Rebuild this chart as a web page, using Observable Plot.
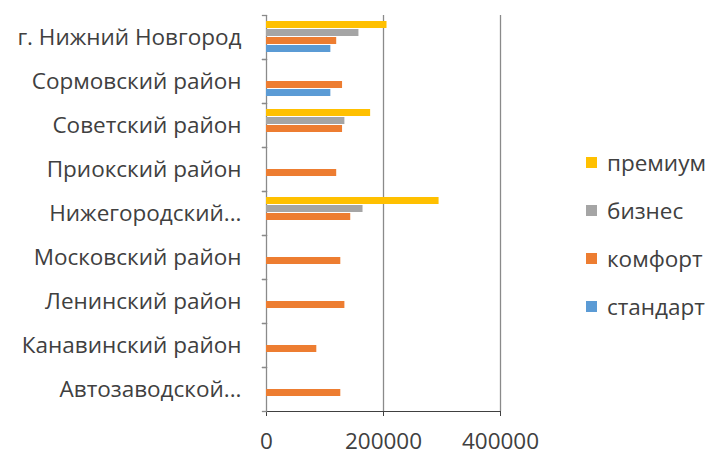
<!DOCTYPE html>
<html>
<head>
<meta charset="utf-8">
<script src="https://cdn.jsdelivr.net/npm/d3@7"></script>
<script src="https://cdn.jsdelivr.net/npm/@observablehq/plot@0.6"></script>
<style>
  body { margin: 0; background: #fff; }
  #wrap { position: relative; width: 712px; height: 458px; font-family: "Open Sans", sans-serif; overflow: hidden; }
  #legend { position: absolute; left: 586px; top: 146px; }
  #legend .item { display: flex; align-items: center; height: 32px; margin-bottom: 16px; font-size: 22.5px; color: #404040; white-space: nowrap; }
  #legend .sw { width: 11px; height: 11px; margin-right: 10px; flex: none; }
</style>
</head>
<body>
<div id="wrap"></div>
<script>
// Districts, top to bottom
const districts = [
  "г. Нижний Новгород",
  "Сормовский район",
  "Советский район",
  "Приокский район",
  "Нижегородский район",
  "Московский район",
  "Ленинский район",
  "Канавинский район",
  "Автозаводской район"
];
// Housing classes, in bar order within each district
const classes = ["премиум", "бизнес", "комфорт", "стандарт"];
const classColors = ["#FFC000", "#A5A5A5", "#ED7D31", "#5B9BD5"];

// Price per class for each district (null = no data)
const premium  = [206000, null, 178000, null, 295000, null, null, null, null];
const business = [158000, null, 134000, null, 165000, null, null, null, null];
const comfort  = [120000, 130000, 130000, 120000, 144000, 127000, 134000, 86000, 127000];
const standard = [110000, 110000, null, null, null, null, null, null, null];

const xTicks = [0, 200000, 400000];

const series = [premium, business, comfort, standard];
const rows = [];
districts.forEach((d, i) => {
  classes.forEach((c, j) => {
    const v = series[j][i];
    if (v != null) rows.push({district: d, cls: c, value: v});
  });
});

const axisGray = "#8a8a8a";

const chart = Plot.plot({
  width: 712,
  height: 458,
  marginLeft: 266,
  marginRight: 212,
  marginTop: 13,
  marginBottom: 45,
  style: {fontFamily: "Open Sans, sans-serif", fontSize: "22.5px", color: "#404040", background: "white"},
  x: {domain: [0, 400000], ticks: xTicks, tickFormat: d => String(d), tickSize: 5, tickPadding: 17, line: true, label: null},
  fy: {domain: districts, padding: 0, label: null, tickSize: 0, tickPadding: 25,
       tickFormat: d => d.length > 18 ? d.split(" ")[0] + "..." : d},
  y: {domain: classes, paddingInner: 0.1, paddingOuter: 0.78, axis: null},
  color: {domain: classes, range: classColors},
  marks: [
    Plot.ruleX(xTicks, {stroke: axisGray, strokeWidth: 1.3}),
    Plot.frame({anchor: "top", insetLeft: -4, insetRight: 234, stroke: axisGray, strokeWidth: 1.3}),
    Plot.frame({anchor: "bottom", insetLeft: -4, insetRight: 234, stroke: axisGray, strokeWidth: 1.3}),
    Plot.barX(rows, {fy: "district", y: "cls", x: "value", fill: "cls"})
  ]
});
document.getElementById("wrap").appendChild(chart);

// Legend listed in class order
const legend = document.createElement("div");
legend.id = "legend";
classes.forEach((c, j) => {
  const item = document.createElement("div");
  item.className = "item";
  const sw = document.createElement("span");
  sw.className = "sw";
  sw.style.background = classColors[j];
  item.appendChild(sw);
  item.appendChild(document.createTextNode(c));
  legend.appendChild(item);
});
document.getElementById("wrap").appendChild(legend);
</script>
</body>
</html>
